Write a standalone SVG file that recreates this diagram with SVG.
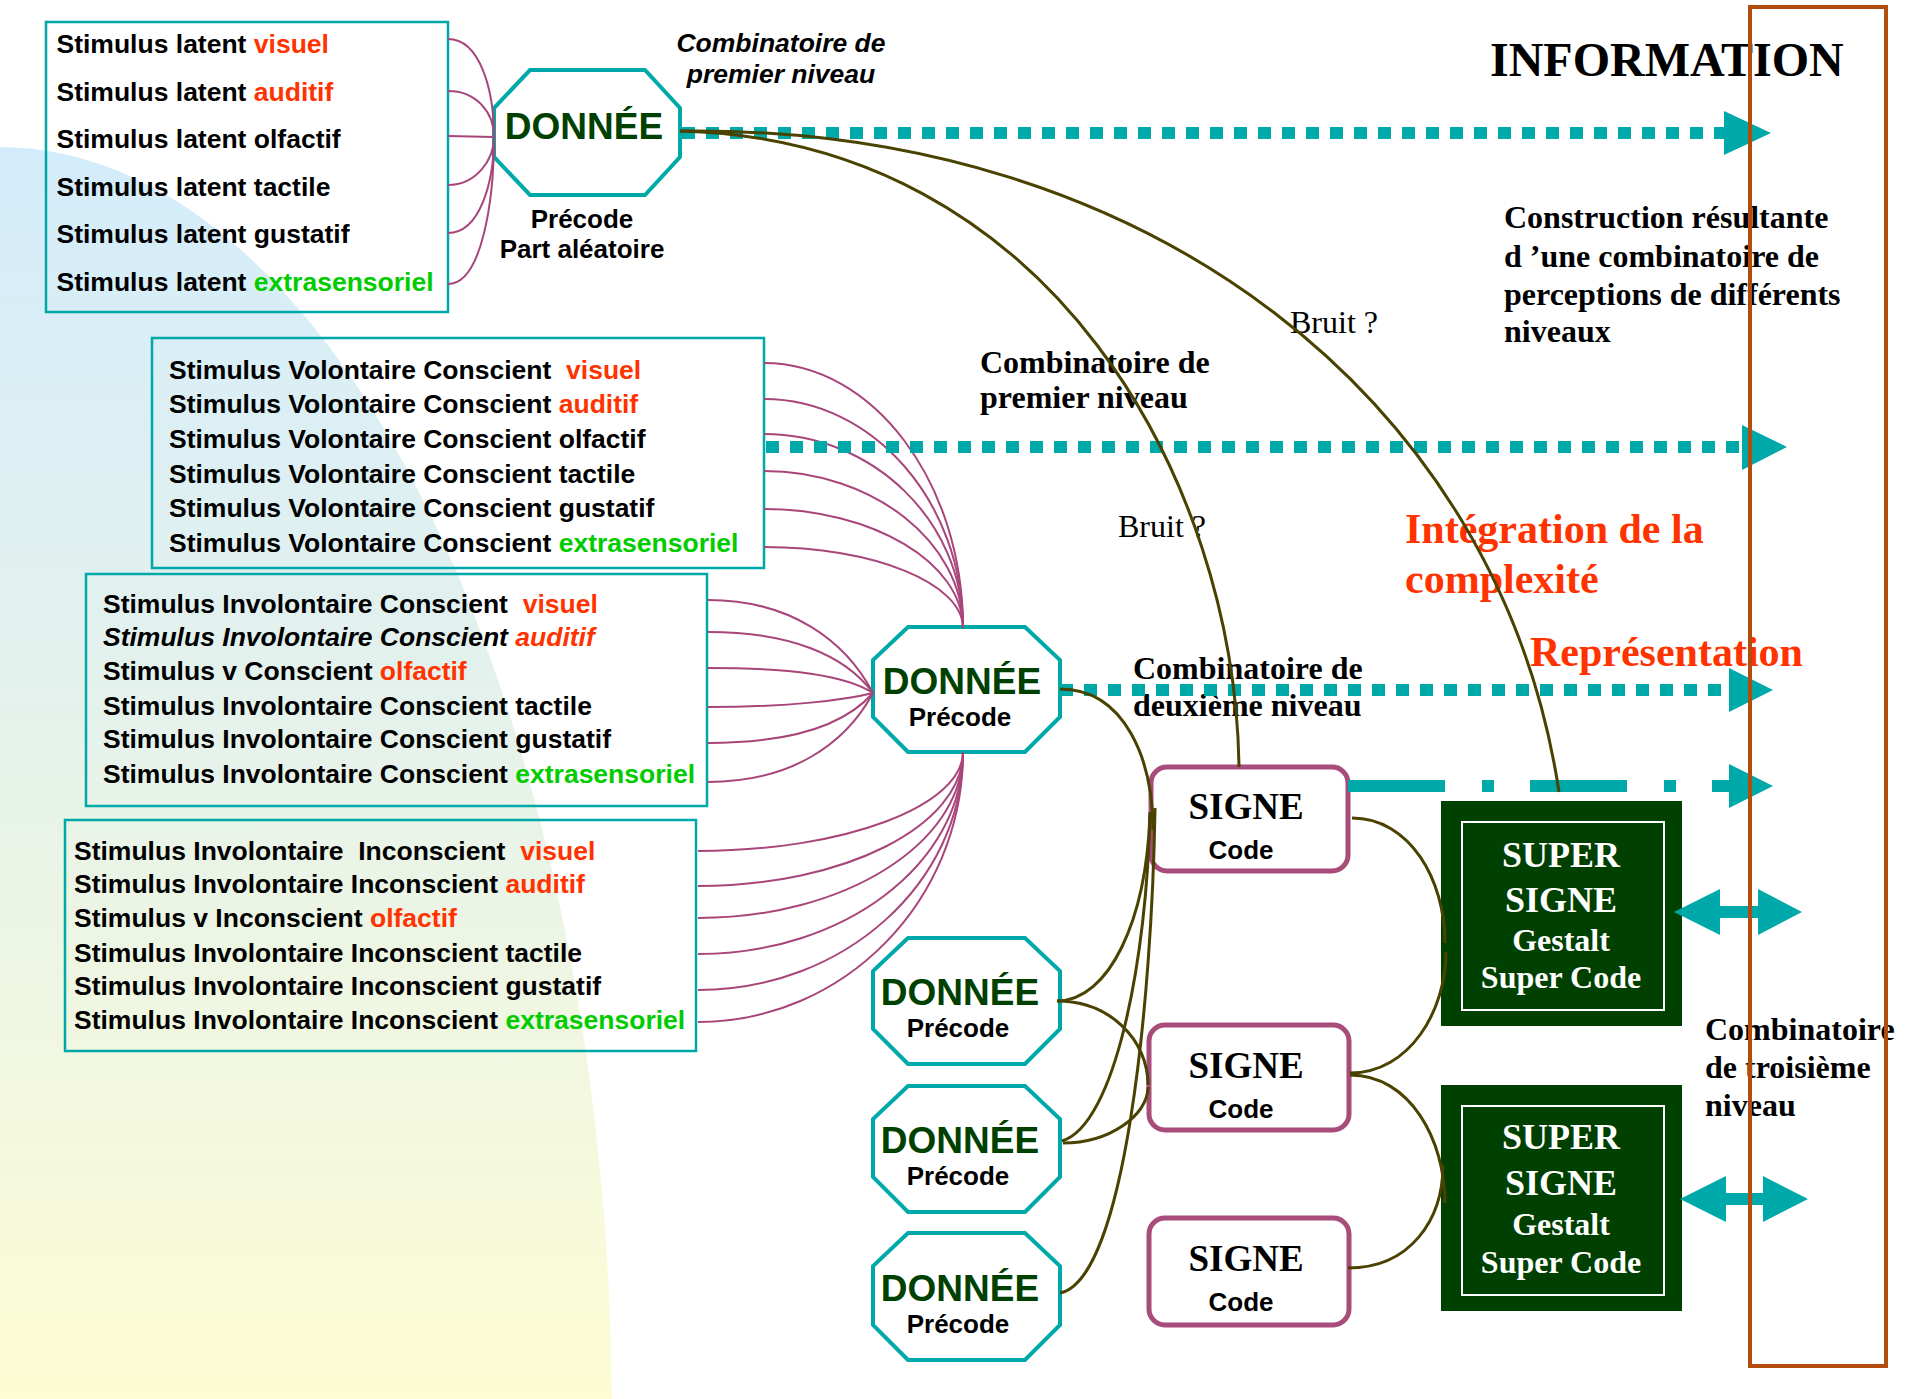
<svg xmlns="http://www.w3.org/2000/svg" width="1914" height="1399" viewBox="0 0 1914 1399">
<defs>
<linearGradient id="bg" gradientUnits="userSpaceOnUse" x1="0" y1="147" x2="0" y2="1399">
<stop offset="0" stop-color="#d3ecfb"/>
<stop offset="0.45" stop-color="#e5f2ec"/>
<stop offset="1" stop-color="#fdfcd4"/>
</linearGradient>
<style>
.stim{font-family:"Liberation Sans",Arial,sans-serif;font-weight:bold;font-size:26.5px;fill:#000;white-space:pre}
.it{font-style:italic}
.red{fill:#ff3300}
.grn{fill:#00cc00}
.box{fill:none;stroke:#00a9a9;stroke-width:2.5}
.oct{fill:#fff;stroke:#00a9a9;stroke-width:4}
.don{font-family:"Liberation Sans",Arial,sans-serif;font-weight:bold;font-size:37px;fill:#004000;text-anchor:middle}
.pre{font-family:"Liberation Sans",Arial,sans-serif;font-weight:bold;font-size:26px;fill:#000;text-anchor:middle}
.tb{font-family:"Liberation Serif","Times New Roman",serif;font-weight:bold;font-size:32px;fill:#000}
.tr{font-family:"Liberation Serif","Times New Roman",serif;font-size:32px;fill:#000}
.big{font-size:42px;fill:#ff3300}
.info{font-size:48px}
.pink{fill:none;stroke:#a8457a;stroke-width:2}
.olive{fill:none;stroke:#4a4200;stroke-width:3}
.dot{fill:none;stroke:#00a9a9;stroke-width:12;stroke-dasharray:13 11}
.teal{fill:#00a9a9}
.sig{fill:#fff;stroke:#a84c7c;stroke-width:5}
.sigt{font-family:"Liberation Serif","Times New Roman",serif;font-weight:bold;font-size:37px;fill:#000;text-anchor:middle}
.sup{fill:#004000}
.supin{fill:none;stroke:#fff;stroke-width:2}
.supt{font-family:"Liberation Serif","Times New Roman",serif;font-weight:bold;fill:#fff;text-anchor:middle}
.s36{font-size:36px}
.s32{font-size:32px}
</style>
</defs>
<rect x="0" y="0" width="1914" height="1399" fill="#fff"/>
<path d="M0,147 A612,1273 0 0 1 612,1420 L0,1420 Z" fill="url(#bg)"/>

<g id="stimuli-latents">
<rect class="box" x="46" y="22" width="402" height="290"/>
<text class="stim" x="56.5" y="53">Stimulus latent <tspan class="red">visuel</tspan></text>
<text class="stim" x="56.5" y="101">Stimulus latent <tspan class="red">auditif</tspan></text>
<text class="stim" x="56.5" y="148">Stimulus latent olfactif</text>
<text class="stim" x="56.5" y="196">Stimulus latent tactile</text>
<text class="stim" x="56.5" y="243">Stimulus latent gustatif</text>
<text class="stim" x="56.5" y="291">Stimulus latent <tspan class="grn">extrasensoriel</tspan></text>
</g>

<g id="stimuli-volontaires">
<rect class="box" x="152" y="338" width="612" height="230"/>
<text class="stim" x="169" y="379">Stimulus Volontaire Conscient  <tspan class="red">visuel</tspan></text>
<text class="stim" x="169" y="413">Stimulus Volontaire Conscient <tspan class="red">auditif</tspan></text>
<text class="stim" x="169" y="448">Stimulus Volontaire Conscient olfactif</text>
<text class="stim" x="169" y="483">Stimulus Volontaire Conscient tactile</text>
<text class="stim" x="169" y="517">Stimulus Volontaire Conscient gustatif</text>
<text class="stim" x="169" y="552">Stimulus Volontaire Conscient <tspan class="grn">extrasensoriel</tspan></text>
</g>

<g id="stimuli-involontaires-conscients">
<rect class="box" x="86" y="574" width="621" height="232"/>
<text class="stim" x="103" y="613">Stimulus Involontaire Conscient  <tspan class="red">visuel</tspan></text>
<text class="stim it" x="103" y="646">Stimulus Involontaire Conscient <tspan class="red">auditif</tspan></text>
<text class="stim" x="103" y="680">Stimulus v Conscient <tspan class="red">olfactif</tspan></text>
<text class="stim" x="103" y="715">Stimulus Involontaire Conscient tactile</text>
<text class="stim" x="103" y="748">Stimulus Involontaire Conscient gustatif</text>
<text class="stim" x="103" y="783">Stimulus Involontaire Conscient <tspan class="grn">extrasensoriel</tspan></text>
</g>

<g id="stimuli-involontaires-inconscients">
<rect class="box" x="65" y="820" width="631" height="231"/>
<text class="stim" x="74" y="860">Stimulus Involontaire  Inconscient  <tspan class="red">visuel</tspan></text>
<text class="stim" x="74" y="893">Stimulus Involontaire Inconscient <tspan class="red">auditif</tspan></text>
<text class="stim" x="74" y="927">Stimulus v Inconscient <tspan class="red">olfactif</tspan></text>
<text class="stim" x="74" y="962">Stimulus Involontaire Inconscient tactile</text>
<text class="stim" x="74" y="995">Stimulus Involontaire Inconscient gustatif</text>
<text class="stim" x="74" y="1029">Stimulus Involontaire Inconscient <tspan class="grn">extrasensoriel</tspan></text>
</g>

<g id="donnee-top">
<polygon class="oct" points="530,70 645,70 680,108 680,157 645,195 530,195 494,157 494,108"/>
<text class="don" x="584" y="139">DONNÉE</text>
<text class="pre" x="582" y="228">Précode</text>
<text class="pre" x="582" y="258">Part aléatoire</text>
</g>

<g id="donnee-mid">
<polygon class="oct" points="908,627 1025,627 1060,660 1060,717 1025,752 908,752 873,717 873,660"/>
<text class="don" x="962" y="694">DONNÉE</text>
<text class="pre" x="960" y="726">Précode</text>
</g>

<g id="donnee-a">
<polygon class="oct" points="908,938 1025,938 1060,971 1060,1029 1025,1064 908,1064 873,1029 873,971"/>
<text class="don" x="960" y="1005">DONNÉE</text>
<text class="pre" x="958" y="1037">Précode</text>
</g>

<g id="donnee-b">
<polygon class="oct" points="908,1086 1025,1086 1060,1119 1060,1177 1025,1212 908,1212 873,1177 873,1119"/>
<text class="don" x="960" y="1153">DONNÉE</text>
<text class="pre" x="958" y="1185">Précode</text>
</g>

<g id="donnee-c">
<polygon class="oct" points="908,1233 1025,1233 1060,1266 1060,1325 1025,1360 908,1360 873,1325 873,1266"/>
<text class="don" x="960" y="1301">DONNÉE</text>
<text class="pre" x="958" y="1333">Précode</text>
</g>

<g id="signe-1">
<rect class="sig" x="1151" y="767" width="197" height="104" rx="16"/>
<text class="sigt" x="1246" y="819">SIGNE</text>
<text class="pre" x="1241" y="859">Code</text>
</g>
<g id="signe-2">
<rect class="sig" x="1149" y="1025" width="200" height="105" rx="16"/>
<text class="sigt" x="1246" y="1078">SIGNE</text>
<text class="pre" x="1241" y="1118">Code</text>
</g>
<g id="signe-3">
<rect class="sig" x="1149" y="1218" width="200" height="107" rx="16"/>
<text class="sigt" x="1246" y="1271">SIGNE</text>
<text class="pre" x="1241" y="1311">Code</text>
</g>

<g id="super-signe-1">
<rect class="sup" x="1441" y="801" width="241" height="225"/>
<rect class="supin" x="1462" y="822" width="202" height="188"/>
<text class="supt s36" x="1561" y="867">SUPER</text>
<text class="supt s36" x="1561" y="912">SIGNE</text>
<text class="supt s32" x="1561" y="951">Gestalt</text>
<text class="supt s32" x="1561" y="988">Super Code</text>
</g>
<g id="super-signe-2">
<rect class="sup" x="1441" y="1085" width="241" height="226"/>
<rect class="supin" x="1462" y="1106" width="202" height="189"/>
<text class="supt s36" x="1561" y="1149">SUPER</text>
<text class="supt s36" x="1561" y="1195">SIGNE</text>
<text class="supt s32" x="1561" y="1235">Gestalt</text>
<text class="supt s32" x="1561" y="1273">Super Code</text>
</g>

<g id="labels">
<text class="stim it" x="781" y="52" text-anchor="middle">Combinatoire de</text>
<text class="stim it" x="781" y="83" text-anchor="middle">premier niveau</text>
<text class="tb info" x="1490" y="76">INFORMATION</text>
<text class="tb" x="1504" y="228">Construction résultante</text>
<text class="tb" x="1504" y="267">d ’une combinatoire de</text>
<text class="tb" x="1504" y="305">perceptions de différents</text>
<text class="tb" x="1504" y="342">niveaux</text>
<text class="tr" x="1290" y="333">Bruit ?</text>
<text class="tb" x="980" y="373">Combinatoire de</text>
<text class="tb" x="980" y="408">premier niveau</text>
<text class="tr" x="1118" y="537">Bruit ?</text>
<text class="tb big" x="1405" y="543">Intégration de la</text>
<text class="tb big" x="1405" y="593">complexité</text>
<text class="tb big" x="1530" y="666">Représentation</text>
<text class="tb" x="1133" y="679">Combinatoire de</text>
<text class="tb" x="1133" y="716">deuxième niveau</text>
<text class="tb" x="1705" y="1040">Combinatoire</text>
<text class="tb" x="1705" y="1078">de troisième</text>
<text class="tb" x="1705" y="1116">niveau</text>
</g>

<g id="connectors">
<path class="pink" d="M448,39 C480,39 494,90 494,137"/>
<path class="pink" d="M448,91 C476,91 494,112 494,137"/>
<path class="pink" d="M448,136 L494,137"/>
<path class="pink" d="M448,185 C476,185 494,160 494,137"/>
<path class="pink" d="M448,233 C480,233 494,182 494,137"/>
<path class="pink" d="M448,284 C482,284 494,200 494,137"/>
<path class="pink" d="M764,363 C873,363 963,482 963,628"/>
<path class="pink" d="M764,399 C873,399 963,502 963,628"/>
<path class="pink" d="M764,434 C873,434 963,521 963,628"/>
<path class="pink" d="M764,471 C873,471 963,542 963,628"/>
<path class="pink" d="M764,509 C873,509 963,563 963,628"/>
<path class="pink" d="M764,547 C873,547 963,583 963,628"/>
<path class="pink" d="M708,600 C790,600 845,640 873,693"/>
<path class="pink" d="M708,632 C790,632 845,655 873,693"/>
<path class="pink" d="M708,668 C790,668 845,675 873,693"/>
<path class="pink" d="M708,707 C790,707 845,700 873,693"/>
<path class="pink" d="M708,743 C790,743 845,725 873,693"/>
<path class="pink" d="M708,782 C790,782 845,745 873,693"/>
<path class="pink" d="M698,851 C844,851 963,806 963,752"/>
<path class="pink" d="M698,886 C844,886 963,826 963,752"/>
<path class="pink" d="M698,918 C844,918 963,844 963,752"/>
<path class="pink" d="M698,954 C844,954 963,864 963,752"/>
<path class="pink" d="M698,990 C844,990 963,883 963,752"/>
<path class="pink" d="M698,1022 C844,1022 963,901 963,752"/>

<line class="dot" x1="682" y1="133" x2="1725" y2="133"/>
<polygon class="teal" points="1724,111 1771,133 1724,155"/>
<line class="dot" x1="766" y1="447" x2="1742" y2="447"/>
<polygon class="teal" points="1742,425 1787,447 1742,470"/>
<line class="dot" x1="1060" y1="690" x2="1729" y2="690"/>
<polygon class="teal" points="1729,668 1773,690 1729,712"/>
<line x1="1348" y1="786" x2="1729" y2="786" stroke="#00a9a9" stroke-width="12" stroke-dasharray="97 37 12 36"/>
<polygon class="teal" points="1729,764 1773,786 1729,808"/>
<polygon class="teal" points="1674,912 1720,889 1720,906 1758,906 1758,889 1802,912 1758,935 1758,918 1720,918 1720,935"/>
<polygon class="teal" points="1680,1199 1726,1176 1726,1193 1763,1193 1763,1176 1808,1199 1763,1222 1763,1205 1726,1205 1726,1222"/>

<path class="olive" d="M680,131 C1050,140 1235,480 1239,767"/>
<path class="olive" d="M680,131 C1150,125 1500,400 1559,792"/>
<path class="olive" d="M1060,689 C1125,689 1153,760 1153,830"/>
<path class="olive" d="M1057,1001 C1110,1000 1146,920 1150,815"/>
<path class="olive" d="M1057,1001 C1110,1001 1148,1040 1148,1085"/>
<path class="olive" d="M1063,1143 C1110,1143 1148,1115 1148,1087"/>
<path class="olive" d="M1062,1141 C1115,1125 1147,960 1150,812"/>
<path class="olive" d="M1060,1293 C1125,1280 1152,1000 1155,808"/>
<path class="olive" d="M1352,818 C1410,818 1445,880 1445,943"/>
<path class="olive" d="M1350,1073 C1410,1073 1446,1010 1446,952"/>
<path class="olive" d="M1350,1075 C1410,1075 1445,1140 1445,1203"/>
<path class="olive" d="M1348,1268 C1410,1268 1443,1220 1443,1165"/>
</g>

<g id="information-frame">
<rect x="1750" y="7" width="136" height="1359" fill="none" stroke="#b34d0d" stroke-width="4"/>
</g>
</svg>
